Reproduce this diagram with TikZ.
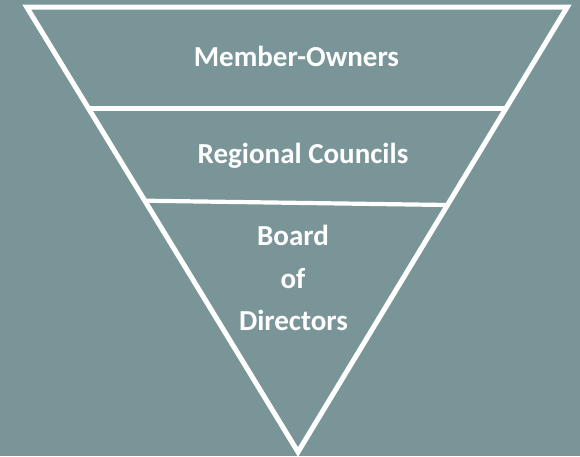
\documentclass[tikz,border=0pt]{standalone}
\usepackage{fontspec}
\setmainfont{Carlito}
\definecolor{bg}{RGB}{122,149,152}
\begin{document}
\begin{tikzpicture}[x=1pt,y=-1pt,
  edge/.style={draw=white,line width=5pt,line join=miter},
  divider/.style={draw=white,line width=4.2pt},
  lbl/.style={text=white,font=\fontsize{29}{34}\selectfont\bfseries,anchor=base,inner sep=0pt}]
\fill[bg] (0,0) rectangle (580,456);
\useasboundingbox (0,0) rectangle (580,456);
\coordinate (tl) at (26.7,7);
\coordinate (tr) at (567.3,7);
\coordinate (ap) at (298,452);
\draw[edge] (tl) -- (tr) -- (ap) -- cycle;
\coordinate (d1l) at (88.5,108.5);
\coordinate (d1r) at (506,108.5);
\coordinate (d2l) at (144.7,200.7);
\coordinate (d2r) at (447.7,205);
\draw[divider] (d1l) -- (d1r);
\draw[divider] (d2l) -- (d2r);
\node[lbl] (mo) at (296.5,66) {Member-Owners};
\node[lbl] (rc) at (303,163.3) {Regional Councils};
\node[lbl] (b1) at (293,245) {Board};
\node[lbl] (b2) at (293,288.3) {of};
\node[lbl] (b3) at (293.5,330) {Directors};
\end{tikzpicture}
\end{document}
